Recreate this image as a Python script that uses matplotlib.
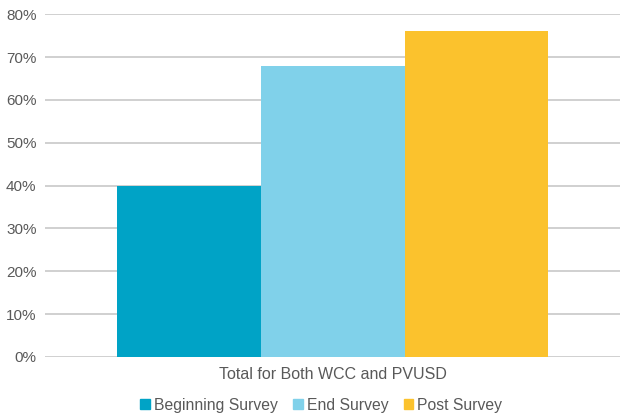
import matplotlib.pyplot as plt
from matplotlib.ticker import PercentFormatter
import matplotlib.patches as mpatches

# survey results, share of respondents
series = ["Beginning Survey", "End Survey", "Post Survey"]
values = [40, 68, 76]
colors = ["#00A3C6", "#80D1EA", "#FBC22D"]
category = "Total for Both WCC and PVUSD"

plt.rcParams['font.family'] = ['Liberation Sans', 'DejaVu Sans']
text_color = "#595959"

fig = plt.figure(figsize=(6.24, 4.17), dpi=100)
ax = fig.add_axes([0.072, 0.144, 0.922, 0.822])

offsets = [-1, 0, 1]
for off, v, c, name in zip(offsets, values, colors, series):
    ax.bar(off, v, width=1, color=c, label=name, zorder=3)

ax.set_xlim(-2, 2)
ax.set_ylim(0, 80)
ax.set_yticks(range(0, 81, 10))
ax.yaxis.set_major_formatter(PercentFormatter(decimals=0))
ax.grid(axis="y", color="#C8C8C8", linewidth=1.2, zorder=0)
ax.set_xticks([0])
ax.set_xticklabels([category])
ax.tick_params(axis="both", length=0, labelcolor=text_color)
ax.tick_params(axis="x", pad=7, labelsize=11.5)
ax.tick_params(axis="y", pad=6, labelsize=11)
for s in ax.spines.values():
    s.set_visible(False)

handles = [mpatches.Patch(color=c, label=n) for c, n in zip(colors, series)]
fig.legend(handles=handles, loc="center", bbox_to_anchor=(0.515, 0.028), ncol=3,
           frameon=False, fontsize=11.3, handlelength=0.6, handleheight=0.6,
           handletextpad=0.25, columnspacing=1.0, labelcolor=text_color)

fig.savefig("out.png", dpi=100)
